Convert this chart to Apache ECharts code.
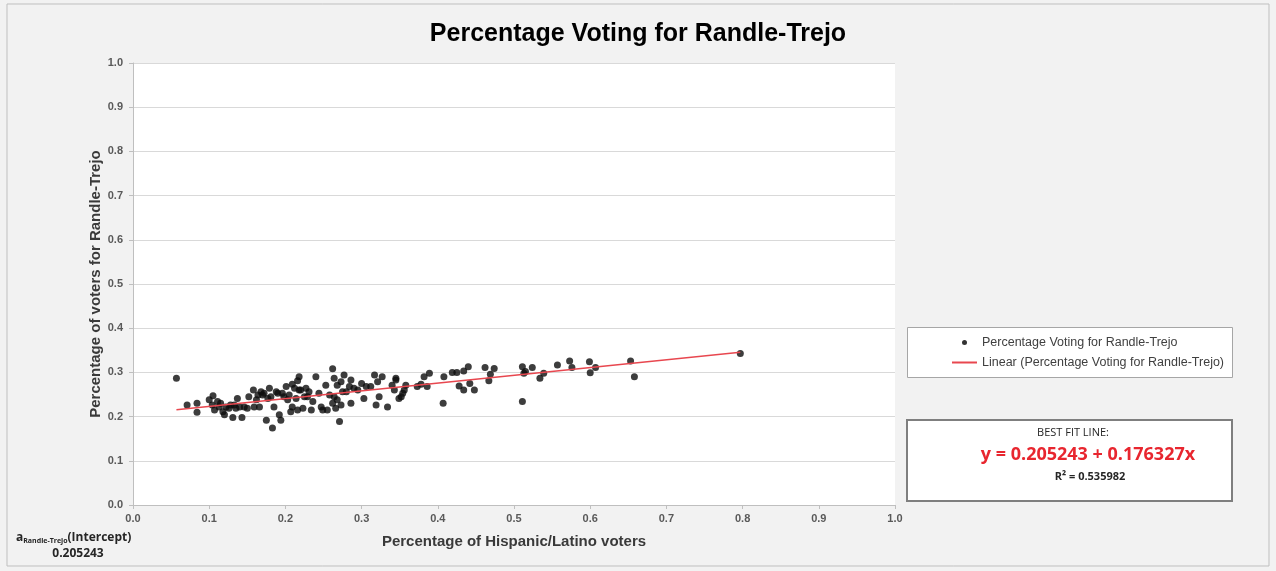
<!DOCTYPE html>
<html>
<head>
<meta charset="utf-8">
<script src="https://cdn.jsdelivr.net/npm/echarts@6/dist/echarts.min.js"></script>
<style>
html,body{margin:0;padding:0;background:#f2f2f2;}
#chart{width:1276px;height:571px;}
</style>
</head>
<body>
<div id="chart"></div>
<script>
// ---- Data ----
const hispanicShare = [
0.057,0.071,0.084,0.084,0.105,0.107,0.111,0.113,0.118,0.122,0.120,0.126,0.131,0.133,0.137,0.140,0.143,0.146,0.150,0.158,
0.159,0.166,0.164,0.168,0.172,0.175,0.179,0.181,0.183,0.185,0.190,0.192,0.194,
0.262,0.240,0.218,0.216,0.201,0.209,0.196,0.203,0.212,0.218,0.227,0.231,0.225,0.214,0.209,0.207,0.216,0.223,0.236,0.234,
0.247,0.249,0.255,0.253,0.264,0.268,0.273,0.277,0.286,0.284,0.264,0.268,0.262,0.266,0.273,0.271,0.275,0.286,0.295,0.303,
0.306,0.317,0.321,0.327,0.323,0.319,0.334,0.340,0.345,0.343,
0.345,0.358,0.356,0.354,0.352,0.349,0.373,0.378,0.386,0.382,0.389,0.408,0.407,0.419,0.425,0.434,0.440,0.428,0.434,0.442,
0.448,0.462,0.474,0.469,0.467,0.511,0.513,0.511,0.524,
0.515,0.534,0.539,0.557,0.573,0.576,0.599,0.600,0.607,0.653,0.658,0.797,
0.100,0.104,0.115,0.128,0.135,0.152,0.162,0.170,0.177,0.188,0.198,0.205,0.220,0.229,0.244,0.258,0.280,0.290,0.300,0.312
];
const randleTrejoShare = [
0.287,0.226,0.230,0.210,0.247,0.215,0.234,0.222,0.211,0.222,0.204,0.219,0.198,0.226,0.241,0.222,0.198,0.222,0.219,0.260,
0.222,0.222,0.249,0.256,0.253,0.192,0.264,0.245,0.174,0.222,0.253,0.204,0.192,
0.308,0.290,0.290,0.281,0.268,0.273,0.253,0.238,0.264,0.260,0.264,0.256,0.245,0.241,0.222,0.211,0.215,0.219,0.234,0.215,
0.222,0.215,0.215,0.271,0.287,0.271,0.279,0.294,0.283,0.268,0.245,0.238,0.230,0.219,0.226,0.189,0.256,0.230,0.260,0.241,
0.268,0.294,0.279,0.290,0.245,0.226,0.222,0.271,0.283,0.260,
0.287,0.271,0.260,0.253,0.245,0.241,0.268,0.273,0.268,0.290,0.298,0.290,0.230,0.300,0.300,0.303,0.313,0.269,0.260,0.275,
0.260,0.311,0.309,0.296,0.281,0.313,0.298,0.234,0.311,
0.302,0.287,0.298,0.317,0.326,0.311,0.324,0.299,0.311,0.326,0.290,0.343,
0.238,0.226,0.230,0.226,0.219,0.245,0.238,0.249,0.241,0.256,0.245,0.249,0.260,0.245,0.253,0.249,0.256,0.264,0.275,0.268
];
const seriesName = 'Percentage Voting for Randle-Trejo';
const trendName = 'Linear (Percentage Voting for Randle-Trejo)';
const intercept = 0.205243;
const slope = 0.176327;
const rSquared = 0.535982;

const points = hispanicShare.map((x,i)=>[x, randleTrejoShare[i]]);
const xMinData = Math.min(...hispanicShare), xMaxData = Math.max(...hispanicShare);
const trendPoints = [[xMinData, intercept + slope*xMinData],[xMaxData, intercept + slope*xMaxData]];

const chart = echarts.init(document.getElementById('chart'), null, {renderer:'canvas'});
const sans = 'Liberation Sans, Arial, sans-serif';
const axisFont = {fontFamily:sans, fontSize:11, color:'#595959', fontWeight:'bold'};
const boxFont = 'Open Sans, Noto Sans, sans-serif';
chart.setOption({
  backgroundColor:'#f2f2f2',
  animation:false,
  title:{
    text:'Percentage Voting for Randle-Trejo',
    left:'center', top:17,
    textStyle:{fontFamily:sans, fontSize:25, fontWeight:'bold', color:'#000'}
  },
  grid:{left:133, right:381, top:63, bottom:66, show:true, backgroundColor:'#ffffff', borderWidth:0},
  xAxis:{
    type:'value', min:0, max:1, interval:0.1,
    name:'Percentage of Hispanic/Latino voters', nameLocation:'middle', nameGap:29, nameMoveOverlap:false,
    nameTextStyle:{fontFamily:sans, fontSize:15, fontWeight:'bold', color:'#3a3a3a'},
    axisLine:{show:true, lineStyle:{color:'#bfbfbf', width:1}},
    axisTick:{show:true, length:4, lineStyle:{color:'#bfbfbf'}},
    axisLabel:Object.assign({margin:8, formatter:v=>v.toFixed(1)}, axisFont),
    splitLine:{show:false}
  },
  yAxis:{
    type:'value', min:0, max:1, interval:0.1,
    name:'Percentage of voters for Randle-Trejo', nameLocation:'middle', nameGap:30, nameMoveOverlap:false,
    nameTextStyle:{fontFamily:sans, fontSize:15, fontWeight:'bold', color:'#3a3a3a'},
    axisLine:{show:true, lineStyle:{color:'#bfbfbf', width:1}},
    axisTick:{show:true, length:4, lineStyle:{color:'#bfbfbf'}},
    axisLabel:Object.assign({margin:10, formatter:v=>v.toFixed(1)}, axisFont),
    splitLine:{show:true, lineStyle:{color:'#d9d9d9', width:1}}
  },
  legend:{
    orient:'vertical', left:947, top:331, itemGap:7, itemWidth:25, itemHeight:5,
    textStyle:{fontFamily:sans, fontSize:12.5, color:'#404040'},
    data:[
      {name:seriesName, icon:'circle', itemStyle:{color:'#000'}},
      {name:trendName, icon:'path://M0,0 H25 V2 H0 Z', itemStyle:{color:'#e8474f'}}
    ]
  },
  series:[
    {
      name:seriesName, type:'scatter', data:points, symbol:'circle', symbolSize:7,
      itemStyle:{color:'#0d0d0d'}, z:3
    },
    {
      name:trendName, type:'line', data:trendPoints, symbol:'none',
      lineStyle:{color:'#e8474f', width:1.5}, itemStyle:{color:'#e8474f'}, z:4
    }
  ],
  graphic:[
    {type:'rect', shape:{x:7, y:4, width:1262, height:562}, style:{fill:'none', stroke:'#bfbfbf', lineWidth:1}, z:-10, silent:true},
    {type:'rect', shape:{x:907.5, y:327.5, width:325, height:50}, style:{fill:'#ffffff', stroke:'#a6a6a6', lineWidth:1}, z:-1, silent:true},
    {type:'rect', shape:{x:907, y:420, width:325, height:81}, style:{fill:'#ffffff', stroke:'#7f7f7f', lineWidth:2}, silent:true},
    {type:'text', x:1073, y:427, style:{text:'BEST FIT LINE:', font:'11px '+boxFont, fill:'#262626', align:'center', textAlign:'center'}, silent:true},
    {type:'text', x:1088, y:446, style:{text:'y = '+intercept+' + '+slope+'x', font:'bold 18px '+boxFont, fill:'#e8262f', align:'center', textAlign:'center'}, silent:true},
    {type:'text', x:1090, y:471, style:{text:'R² = '+rSquared, font:'bold 11px '+boxFont, fill:'#262626', align:'center', textAlign:'center'}, silent:true},
    {type:'text', x:16, y:531, style:{rich:{a:{font:'bold 12px '+boxFont, fill:'#262626'}, s:{font:'bold 7px '+boxFont, fill:'#262626', padding:[6,0,0,0]}, b:{font:'bold 12px '+boxFont, fill:'#262626'}}, text:'{a|a}{s|Randle-Trejo}{b|(Intercept)}'}, silent:true},
    {type:'text', x:78, y:548, style:{text:String(intercept), font:'bold 12px '+boxFont, fill:'#262626', align:'center', textAlign:'center'}, silent:true}
  ]
});
</script>
</body>
</html>
